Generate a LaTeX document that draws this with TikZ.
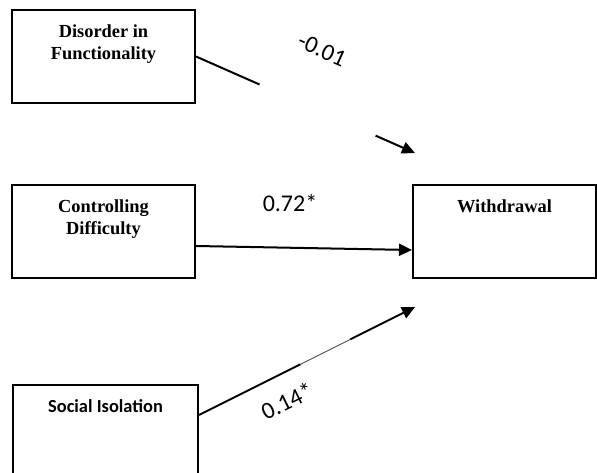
\documentclass[tikz,border=0pt]{standalone}
\usepackage{fontspec}
\newfontfamily\serifbf{Liberation Serif}
\newfontfamily\carlito{Carlito}
\usepackage{tikz}
\usetikzlibrary{arrows.meta, positioning, calc}

\begin{document}
\begin{tikzpicture}
                            [x=1pt, y=-1pt,
                             box/.style={draw, line width=2pt, minimum width=183pt, minimum height=93pt, inner sep=0pt},
                             boxtext/.style={anchor=north, yshift=-16pt, align=center, inner sep=0pt,
                                             font=\serifbf\bfseries\fontsize{18.4}{21.5}\selectfont},
                             sanstext/.style={anchor=north, yshift=-15.7pt, inner sep=0pt,
                                              font=\carlito\bfseries\fontsize{18.4}{21.5}\selectfont},
                             coef/.style={inner sep=0pt, font=\carlito\fontsize{24}{28}\selectfont},
                             link/.style={line width=2pt},
                             arr/.style={line width=2pt, -{Triangle[length=13pt, width=12pt]}}]

    \useasboundingbox (0,0) rectangle (597,473);
    \clip (0,0) rectangle (597,473);

    \node[box, label={[boxtext]north:Disorder in\\Functionality}] (df) at (103.5,56.5) {};
    \node[box, label={[boxtext]north:Controlling\\Difficulty}] (cd) at (103.5,231.5) {};
    \node[box, label={[boxtext]north:Withdrawal}] (wd) at (504.5,231.5) {};
    \node[box, minimum width=185pt, label={[sanstext]north:Social Isolation}] (si) at (105.5,431.5) {};

    \coordinate (t1) at (415,153);
    \coordinate (t3) at (415,307);
    \coordinate (s0) at ([yshift=16.5pt]si.east);

    % disorder -> withdrawal (broken line)
    \draw[link] (df.east) -- ($(df.east)!0.29!(t1)$);
    \draw[arr] ($(df.east)!0.82!(t1)$) -- (t1);

    \draw[arr] ([yshift=-14.5pt]cd.east) -- ([yshift=-18.5pt]wd.west);

    % social isolation -> withdrawal
    \draw[link] (s0) -- ($(s0)!0.47!(t3)$);
    \draw[line width=0.9pt, black!70] ($(s0)!0.47!(t3)$) -- ($(s0)!0.7!(t3)$);
    \draw[arr] ($(s0)!0.7!(t3)$) -- (t3);

    \node[coef, rotate=-24] (c1) at (322,50) {-0.01};
    \node[coef] (c2) at (290,203) {0.72*};
    \node[coef, rotate=26] (c3) at (287,401) {0.14*};
\end{tikzpicture}
\end{document}
